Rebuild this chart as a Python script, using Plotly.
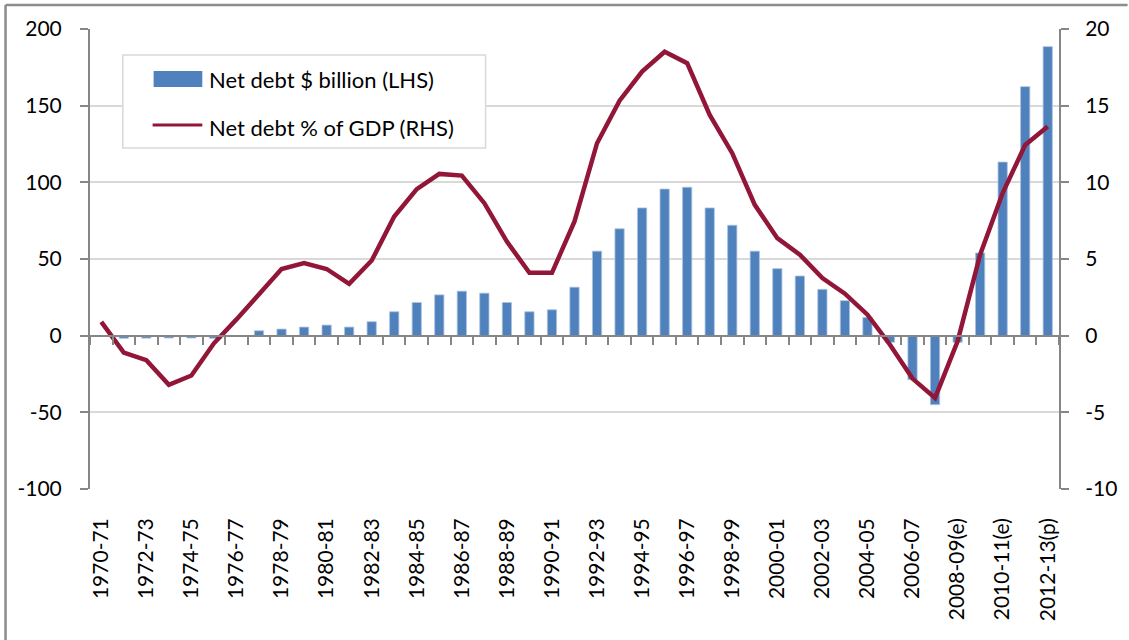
import plotly.graph_objects as go

# Financial years on the category axis
years = [
    "1970-71", "1971-72", "1972-73", "1973-74", "1974-75", "1975-76", "1976-77",
    "1977-78", "1978-79", "1979-80", "1980-81", "1981-82", "1982-83", "1983-84",
    "1984-85", "1985-86", "1986-87", "1987-88", "1988-89", "1989-90", "1990-91",
    "1991-92", "1992-93", "1993-94", "1994-95", "1995-96", "1996-97", "1997-98",
    "1998-99", "1999-00", "2000-01", "2001-02", "2002-03", "2003-04", "2004-05",
    "2005-06", "2006-07", "2007-08", "2008-09(e)", "2009-10(e)", "2010-11(e)",
    "2011-12(p)", "2012-13(p)",
]

# Net debt, $ billion (left axis)
net_debt_bn = [
    0.0, -1.7, -1.6, -1.5, -1.5, -1.7, 0.0,
    3.2, 4.3, 5.6, 6.9, 5.6, 9.1, 15.6,
    21.6, 26.6, 29.0, 27.7, 21.6, 15.6, 16.9,
    31.6, 55.1, 69.7, 83.3, 95.6, 96.8, 83.3,
    72.0, 55.1, 43.7, 38.9, 30.2, 22.8, 11.9,
    -4.3, -28.7, -45.0, -4.3, 53.9, 113.2,
    162.4, 188.5,
]

# Net debt, % of GDP (right axis)
net_debt_pct_gdp = [
    0.9, -1.1, -1.6, -3.2, -2.6, -0.5, 1.06,
    2.75, 4.35, 4.74, 4.35, 3.38, 4.9, 7.77,
    9.56, 10.55, 10.44, 8.64, 6.14, 4.1, 4.1,
    7.45, 12.55, 15.33, 17.22, 18.52, 17.77, 14.4,
    11.9, 8.53, 6.36, 5.28, 3.76, 2.74, 1.37,
    -0.59, -2.8, -4.06, -0.37, 5.28, 9.3,
    12.44, 13.64,
]

# Axis tick values and their printed labels (plain hyphen for negatives)
lhs_ticks = [-100, -50, 0, 50, 100, 150, 200]
lhs_text = ["-100", "-50", "0", "50", "100", "150", "200"]
rhs_ticks = [-10, -5, 0, 5, 10, 15, 20]
rhs_text = ["-10", "-5", "0", "5", "10", "15", "20"]

bar_label = "Net debt $ billion (LHS)"
line_label = "Net debt % of GDP (RHS)"

BAR_BLUE = "#4F81BD"
LINE_RED = "#921638"
AXIS_GREY = "#868686"
GRID_GREY = "#D9D9D9"
FONT = "Lato, 'Open Sans', sans-serif"

W, H = 1129, 640
ML, MR, MT, MB = 90, 64, 29, 151
PW, PH = W - ML - MR, H - MT - MB


def px_x(x):
    return (x - ML) / PW


def px_y(y):
    return (H - MB - y) / PH


fig = go.Figure()

fig.add_trace(go.Bar(
    x=years, y=net_debt_bn, name=bar_label,
    marker=dict(color=BAR_BLUE, line=dict(color="#A9C1E0", width=0.8)),
    xaxis="x", yaxis="y", showlegend=False,
))

fig.add_trace(go.Scatter(
    x=years, y=net_debt_pct_gdp, name=line_label, mode="lines",
    line=dict(color=LINE_RED, width=4.5),
    xaxis="x2", yaxis="y2", showlegend=False,
))

# Outer frame (top and left edges), legend box and swatches
shapes = [
    dict(type="line", xref="paper", yref="paper",
         x0=px_x(5), x1=px_x(W + 5), y0=px_y(5), y1=px_y(5),
         line=dict(color="#8C8C8C", width=2.5)),
    dict(type="line", xref="paper", yref="paper",
         x0=px_x(5), x1=px_x(5), y0=px_y(5), y1=px_y(H + 5),
         line=dict(color="#8C8C8C", width=2.5)),
    dict(type="rect", xref="paper", yref="paper",
         x0=px_x(123), x1=px_x(488), y0=px_y(55), y1=px_y(148),
         line=dict(color="#D9D9D9", width=1.5), fillcolor="white", layer="above"),
    dict(type="rect", xref="paper", yref="paper",
         x0=px_x(154), x1=px_x(203), y0=px_y(71), y1=px_y(87),
         line=dict(width=0), fillcolor=BAR_BLUE, layer="above"),
    dict(type="line", xref="paper", yref="paper",
         x0=px_x(153), x1=px_x(203), y0=px_y(125), y1=px_y(125),
         line=dict(color=LINE_RED, width=3), layer="above"),
]

legend_font = dict(family=FONT, size=22, color="#000000")
annotations = [
    dict(text=bar_label, xref="paper", yref="paper", x=px_x(208), y=px_y(79),
         xanchor="left", yanchor="middle", showarrow=False, font=legend_font),
    dict(text=line_label, xref="paper", yref="paper", x=px_x(208), y=px_y(127),
         xanchor="left", yanchor="middle", showarrow=False, font=legend_font),
]

tick_font = dict(family=FONT, size=21, color="#000000")

fig.update_layout(
    width=W, height=H,
    margin=dict(l=ML, r=MR, t=MT, b=MB),
    paper_bgcolor="white", plot_bgcolor="white",
    bargap=0.59,
    shapes=shapes, annotations=annotations,
    font=tick_font,
    # bottom axis: labels on every second year
    xaxis=dict(
        type="category", categoryorder="array", categoryarray=years,
        range=[-0.5, len(years) - 0.5],
        tickmode="array", tickvals=years[::2], ticktext=years[::2],
        tickangle=-90, ticks="", showline=False, showgrid=False,
        ticklabelstandoff=24, tickfont=tick_font,
    ),
    # category axis drawn through zero with boundary tick marks
    xaxis2=dict(
        type="category", categoryorder="array", categoryarray=years,
        range=[-0.5, len(years) - 0.5],
        overlaying="x", anchor="free", position=px_y(H - MB - PH / 3),
        tickmode="linear", tick0=0, dtick=1, tickson="boundaries",
        ticks="outside", ticklen=8, tickwidth=2, tickcolor=AXIS_GREY,
        showticklabels=False, showline=True, linecolor=AXIS_GREY, linewidth=2,
        showgrid=False, zeroline=False,
    ),
    yaxis=dict(
        range=[-100, 200], tickmode="array", tickvals=lhs_ticks, ticktext=lhs_text,
        showgrid=True, gridcolor=GRID_GREY, gridwidth=2, zeroline=False,
        showline=True, linecolor=AXIS_GREY, linewidth=2,
        ticks="outside", ticklen=8, tickwidth=2, tickcolor=AXIS_GREY,
        ticklabelstandoff=14, tickfont=tick_font,
    ),
    yaxis2=dict(
        range=[-10, 20], tickmode="array", tickvals=rhs_ticks, ticktext=rhs_text,
        overlaying="y", side="right", anchor="x",
        showgrid=False, zeroline=False,
        showline=True, linecolor=AXIS_GREY, linewidth=2,
        ticks="outside", ticklen=8, tickwidth=2, tickcolor=AXIS_GREY,
        ticklabelstandoff=12, tickfont=tick_font,
    ),
)

fig.write_html("out.html")
